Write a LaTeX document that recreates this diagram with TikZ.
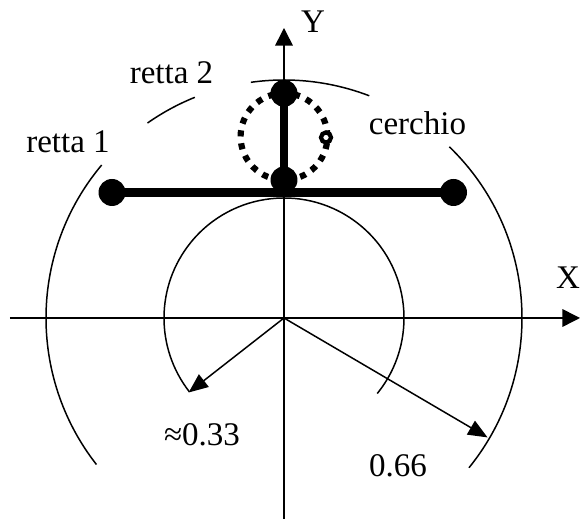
\documentclass[tikz,border=0pt]{standalone}
\usepackage{fontspec}
\setmainfont{Liberation Serif}
\usetikzlibrary{arrows.meta}

\begin{document}
\begin{tikzpicture}[x=0.02cm,y=0.02cm,
  thinline/.style={line width=0.85pt},
  dot/.style={circle,fill=black,inner sep=0pt,minimum size=0.54cm},
  lbl/.style={anchor=base,inner sep=0pt,font=\fontsize{18.8}{22}\selectfont}]
\useasboundingbox (-284,-201) rectangle (297,318);
% axes
\coordinate (O) at (0,0);
\coordinate (xa) at (-274,0); \coordinate (xb) at (296,0);
\coordinate (ya) at (0,-201); \coordinate (yb) at (0,290);
\draw[thinline,-{Triangle[length=10pt,width=10pt]}] (xa)--(xb);
\draw[thinline,-{Triangle[length=10pt,width=10pt]}] (ya)--(yb);
\node[lbl] (X) at (284,29) {X};
\node[lbl] (Y) at (29,285) {Y};
% outer circle, broken by the labels
\foreach \a/\b in {-39/46,69/98,112/125,140/218}{\draw[thinline] (\a:238) arc[start angle=\a,end angle=\b,radius=238];}
% inner circle
\draw[thinline] (-39:120) arc[start angle=-39,end angle=218,radius=120];
% radii
\coordinate (r33) at (218:121); \coordinate (r66) at (-30.4:236);
\draw[thinline,-{Triangle[length=11pt,width=9pt]}] (O)--(r33);
\draw[thinline,-{Triangle[length=11pt,width=9pt]}] (O)--(r66);
\node[lbl] (v33) at (-82,-128) {≈0.33};
\node[lbl] (v66) at (114,-159) {0.66};
% rods and joints
\node[dot] (L) at (-172,125.5) {};
\node[dot] (R) at (169.5,125.5) {};
\node[dot] (mid) at (0,138) {};
\node[dot] (top) at (0,224.7) {};
\draw[line width=5pt] (L.center)--(R.center);
\draw[line width=4pt] (mid.center)--(top.center);
\draw[line width=3.5pt,dash pattern=on 3.5pt off 3.9pt] (0,181.4) circle (43.4);
\draw[line width=2.4pt,fill=white] (42,180.5) circle (5);
% labels
\node[lbl] (r1) at (-216,165) {retta 1};
\node[lbl] (r2) at (-112.5,234) {retta 2};
\node[lbl] (ce) at (133.5,183) {cerchio};
\end{tikzpicture}
\end{document}
